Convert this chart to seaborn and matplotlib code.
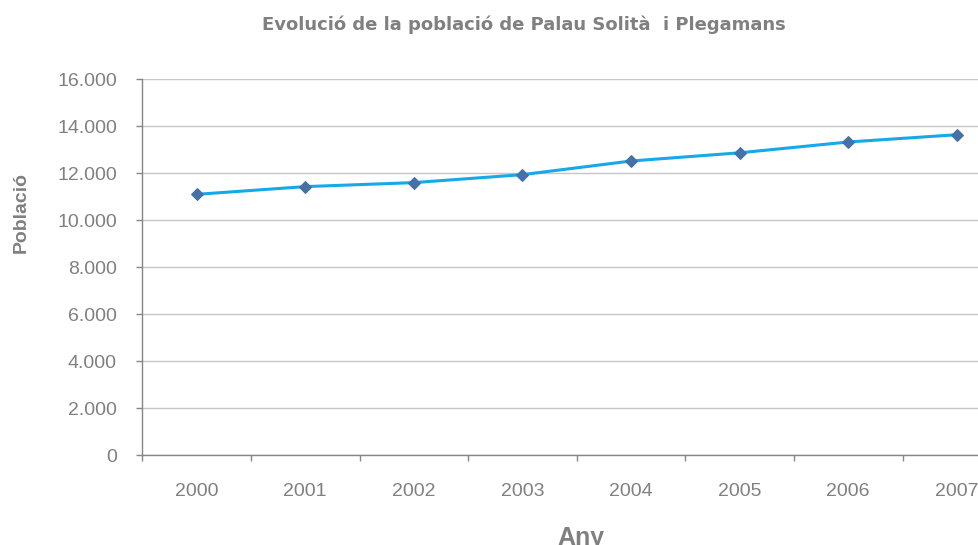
import numpy as np
import pandas as pd
import seaborn as sns
import matplotlib
matplotlib.use("Agg")
import matplotlib.pyplot as plt
from matplotlib.ticker import FuncFormatter, FixedLocator

# dades llegides del grafic
anys = ["2000", "2001", "2002", "2003", "2004", "2005", "2006", "2007"]
poblacio = [11100, 11430, 11600, 11940, 12520, 12870, 13330, 13640]
ticks_y = [0, 2000, 4000, 6000, 8000, 10000, 12000, 14000, 16000]

df = pd.DataFrame({"pos": np.arange(len(anys)), "Població": poblacio})

sns.set_theme(style="white")
plt.rcParams["font.family"] = ["Liberation Sans", "DejaVu Sans"]

gris = "#808080"
fig = plt.figure(figsize=(9.79, 5.45), dpi=100)
ax = fig.add_axes([0.1454, 0.1651, 0.8874, 0.6894])

sns.lineplot(data=df, x="pos", y="Població", ax=ax, color="#17a8e8", linewidth=2.2,
             marker="D", markersize=6.6, markerfacecolor="#4670a8",
             markeredgecolor="#4670a8", zorder=3)

ax.set_xlim(-0.5, len(anys) - 0.5)
ax.set_ylim(0, 16000)
ax.set_yticks(ticks_y)
ax.yaxis.set_major_formatter(FuncFormatter(lambda v, p: f"{v:,.0f}".replace(",", ".")))
ax.set_xticks(df["pos"])
ax.set_xticklabels(anys)
ax.xaxis.set_minor_locator(FixedLocator(np.arange(len(anys) + 1) - 0.5))

ax.grid(axis="y", color="#c6c6c6", linewidth=1)
ax.set_axisbelow(True)
ax.tick_params(axis="x", which="major", length=0, pad=20, labelsize=14, labelcolor=gris)
ax.tick_params(axis="x", which="minor", length=4.3, width=1, color="#868686", direction="out", bottom=True)
ax.tick_params(axis="y", length=4.3, width=1, color="#868686", direction="out", left=True,
               pad=14, labelsize=14, labelcolor=gris)

for s in ["top", "right"]:
    ax.spines[s].set_visible(False)
for s in ["left", "bottom"]:
    ax.spines[s].set_color("#868686")
    ax.spines[s].set_linewidth(1)

ax.set_xlabel("")
ax.set_ylabel("")

# titol una mica mes ample, com a l'original
fig.text(0.5355, 0.954, "Evolució de la població de Palau Solità  i Plegamans",
         ha="center", va="center", fontsize=13, fontweight="bold", color=gris,
         family=["DejaVu Sans"])
fig.text(0.0215, 0.610, "Població", rotation=90, ha="center", va="center",
         fontsize=14, fontweight="bold", color=gris)
fig.text(0.5935, 0.0, "Any", ha="center", va="baseline",
         fontsize=18, fontweight="bold", color=gris)

fig.savefig("out.png", dpi=100)
